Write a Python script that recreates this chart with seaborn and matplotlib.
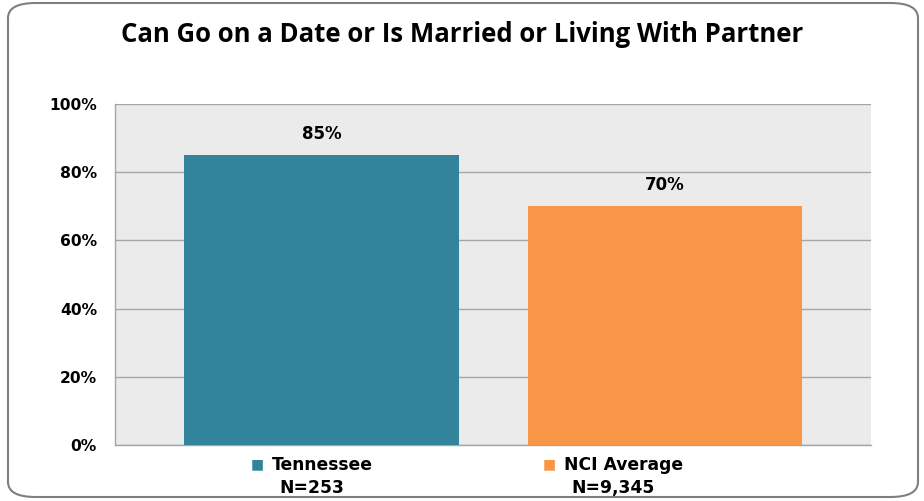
import pandas as pd
import seaborn as sns
import matplotlib.pyplot as plt
from matplotlib.patches import FancyBboxPatch
import matplotlib.transforms as mtransforms

# chart data
groups = ['Tennessee', 'NCI Average']
sample_sizes = ['N=253', 'N=9,345']
percents = [85, 70]
bar_colors = ['#31849B', '#F79646']
y_ticks = [0, 20, 40, 60, 80, 100]
y_tick_labels = ['0%', '20%', '40%', '60%', '80%', '100%']

df = pd.DataFrame({'group': groups, 'pct': percents})

sns.set_style('white')
plt.rcParams['font.family'] = ['DejaVu Sans']
plt.rcParams['text.color'] = 'black'
plt.rcParams['ytick.labelcolor'] = 'black'

fig = plt.figure(figsize=(9.24, 5.01), dpi=100)
ax = fig.add_axes([115 / 924, 1 - 445 / 501, (871 - 115) / 924, (445 - 104) / 501])

# rounded frame around the whole chart
frame = FancyBboxPatch((8 / 924, 4 / 501), 910 / 924, 494 / 501,
                       boxstyle='round,pad=0,rounding_size=0.03',
                       transform=fig.transFigure, facecolor='none',
                       edgecolor='#7f7f7f', linewidth=1.5)
fig.patches.append(frame)

sns.barplot(data=df, x='group', y='pct', hue='group', palette=bar_colors,
            width=0.8, saturation=1, legend=False, ax=ax, zorder=3,
            linewidth=0)

ax.set_facecolor('#ebebeb')
ax.set_xlim(-0.601, 1.6)
ax.set_ylim(0, 100)
ax.set_yticks(y_ticks)
ax.set_yticklabels(y_tick_labels, fontsize=11.2, fontweight='bold', color='black')
ax.yaxis.grid(True, color='#a6a6a6', linewidth=1, zorder=0)
ax.set_axisbelow(True)
ax.tick_params(axis='y', length=7, color='#a6a6a6', direction='out', pad=6)
ax.tick_params(axis='x', length=0)
ax.set_xticks([0, 1])
ax.set_xticklabels(['', ''])
ax.set_xlabel('')
ax.set_ylabel('')
for side in ['top', 'right']:
    ax.spines[side].set_visible(False)
for side in ['left', 'bottom']:
    ax.spines[side].set_color('#a6a6a6')
    ax.spines[side].set_linewidth(1)

# value labels over bars
for i, v in enumerate(percents):
    ax.text(i, v + 3.5, f'{v}%', ha='center', va='bottom',
            fontsize=12, fontweight='bold')

# category labels with coloured squares (sit a little left of the bar centres)
label_x = [-0.028, 0.849]
trans = mtransforms.blended_transform_factory(ax.transData, ax.transAxes)
name_texts = []
for i, (name, n) in enumerate(zip(groups, sample_sizes)):
    t = ax.text(label_x[i] + 0.03, -0.058, name, transform=trans, ha='center',
                va='center', fontsize=12.3, fontweight='bold')
    name_texts.append(t)
    ax.text(label_x[i], -0.125, n, transform=trans, ha='center', va='center',
            fontsize=12.3, fontweight='bold')

fig.canvas.draw()
renderer = fig.canvas.get_renderer()
for i, t in enumerate(name_texts):
    bb = t.get_window_extent(renderer)
    fig.text((bb.x0 - 8) / fig.bbox.width, (bb.y0 + bb.y1) / 2 / fig.bbox.height,
             '\u25a0', ha='right', va='center', fontsize=10,
             color=bar_colors[i])

fig.text(0.5, 1 - 35 / 501, 'Can Go on a Date or Is Married or Living With Partner',
         ha='center', va='center', fontsize=18.5, fontweight='bold',
         family=['Open Sans', 'DejaVu Sans'])

fig.savefig('out.png', dpi=100)
